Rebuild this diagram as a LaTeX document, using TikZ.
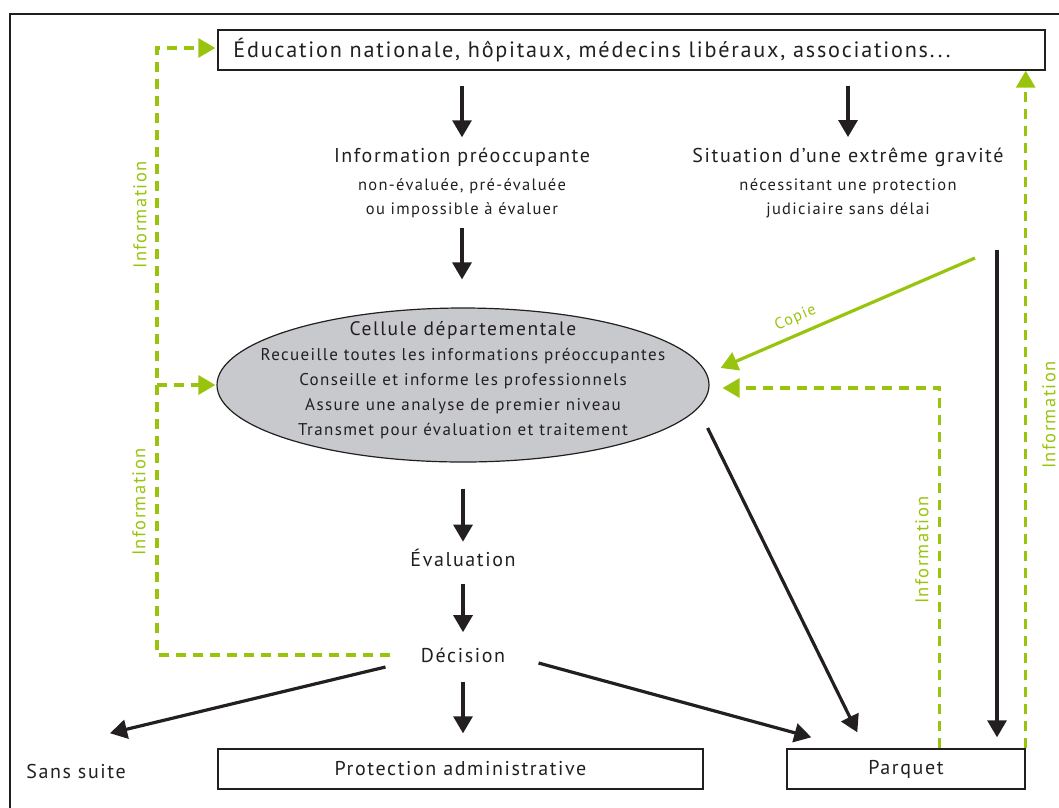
\documentclass[tikz,border=0pt]{standalone}
\usepackage{fontspec}
\setmainfont{PT Sans}[LetterSpace=8]
\usetikzlibrary{arrows.meta, shapes.geometric, calc}

\definecolor{ink}{RGB}{35,31,32}
\definecolor{infogreen}{RGB}{153,196,14}
\definecolor{cellgray}{RGB}{200,201,204}

\begin{document}
\begin{tikzpicture}[
    x=1pt, y=-1pt,
    >={Triangle[length=17pt, width=19pt]},
    every node/.style={text=ink, font=\fontsize{20}{23}\selectfont},
    box/.style={draw=ink, line width=1.4pt, minimum height=40pt, inner sep=0pt},
    sub/.style={font=\fontsize{16.5}{24}\selectfont, align=center},
    flow/.style={->, draw=ink, line width=3.2pt},
    copyarrow/.style={->, draw=infogreen, line width=3.2pt},
    info/.style={->, draw=infogreen, line width=3.2pt, dash pattern=on 10pt off 7pt},
    infolabel/.style={text=infogreen, font=\fontsize{18.5}{20}\selectfont,
                      rotate=90, inner sep=1pt}
  ]
  \clip (0,0) rectangle (1059,807);
  % outer frame, cut by the page edge
  \draw[ink, line width=2.5pt] (10,830) |- (1080,14);

  % top row
  \node[box, minimum width=827pt] (edu) at (631.5,50) {};
  \node[font=\fontsize{22.2}{24}\selectfont] (edutext) at (592,50)
    {Éducation nationale, hôpitaux, médecins libéraux, associations...};
  \node (info) at (462,157) {Information préoccupante};
  \node[sub] (infosub) at (462,198) {non-évaluée, pré-évaluée\\ou impossible à évaluer};
  \node (grave) at (848,157) {Situation d'une extrême gravité};
  \node[sub] (gravesub) at (848,198) {nécessitant une protection\\judiciaire sans délai};

  % departmental cell
  \node[ellipse, draw=ink, line width=1.2pt, fill=cellgray,
        minimum width=492pt, minimum height=154pt] (cell) at (463,385) {};
  \node[sub, font=\fontsize{17}{25}\selectfont] (celltext) at (463,380)
    {{\fontsize{19.5}{25}\selectfont Cellule départementale}\\
     Recueille toutes les informations préoccupantes\\
     Conseille et informe les professionnels\\
     Assure une analyse de premier niveau\\
     Transmet pour évaluation et traitement};

  \node (eval) at (463,558) {Évaluation};
  \node (deci) at (463,655) {Décision};

  % outcomes
  \node (sans) at (76,771) {Sans suite};
  \node[box, minimum width=485pt] (prot) at (460.5,769) {Protection administrative};
  \node[box, minimum width=238pt] (parquet) at (906,769) {Parquet};
  \coordinate (jud) at (997,250);
  \coordinate (copiestart) at (975,258);

  % main flow
  \draw[flow, shorten <=15pt, shorten >=7pt] (edu.south -| info) -- (info.north);
  \draw[flow, shorten <=15pt, shorten >=7pt] (edu.south -| grave) -- (grave.north);
  \draw[flow, shorten <=7pt, shorten >=28pt] (infosub.south) -- (infosub.south |- cell.north);
  \draw[flow, shorten <=26pt, shorten >=4pt] (cell.south) -- (eval.north);
  \draw[flow, shorten <=14pt, shorten >=12pt] (eval.south) -- (deci.north);
  \draw[flow, shorten <=16pt, shorten >=15pt] (deci.south) -- (deci.south |- prot.north);
  \draw[flow] ($(deci.west)+(-32,12)$) -- ($(sans.north)+(34,-27)$);
  \draw[flow] ($(deci.east)+(30,8)$) -- ($(parquet.north west)+(25,-11)$);
  \draw[flow] ($(cell.east)+(-2,43)$) -- ($(parquet.north west)+(71,-16)$);
  \draw[flow, shorten >=11pt] (jud) -- (jud |- parquet.north);

  % copies and information flows
  \draw[copyarrow] (copiestart) -- ($(cell.east)+(11,-17)$)
    node[pos=0.68, above=4pt, sloped, text=infogreen,
         font=\fontsize{16}{18}\selectfont] {Copie};
  \draw[info] ($(parquet.north west)+(153,0)$) |- ($(cell.east)+(13,3)$);
  \draw[info] (parquet.north east) -- (parquet.north east |- edu.south);
  \draw[info] ($(deci.west)+(-27,0)$) -- (157,655) |- ($(edu.west)+(-2,-2)$);
  \draw[info, shorten >=1pt] (157,385) -- (cell.west);

  \node[infolabel] (lbl1) at (140,215) {Information};
  \node[infolabel] (lbl2) at (139,502) {Information};
  \node[infolabel] (lbl3) at (922,550) {Information};
  \node[infolabel] (lbl4) at (1049,415) {Information};
\end{tikzpicture}
\end{document}
